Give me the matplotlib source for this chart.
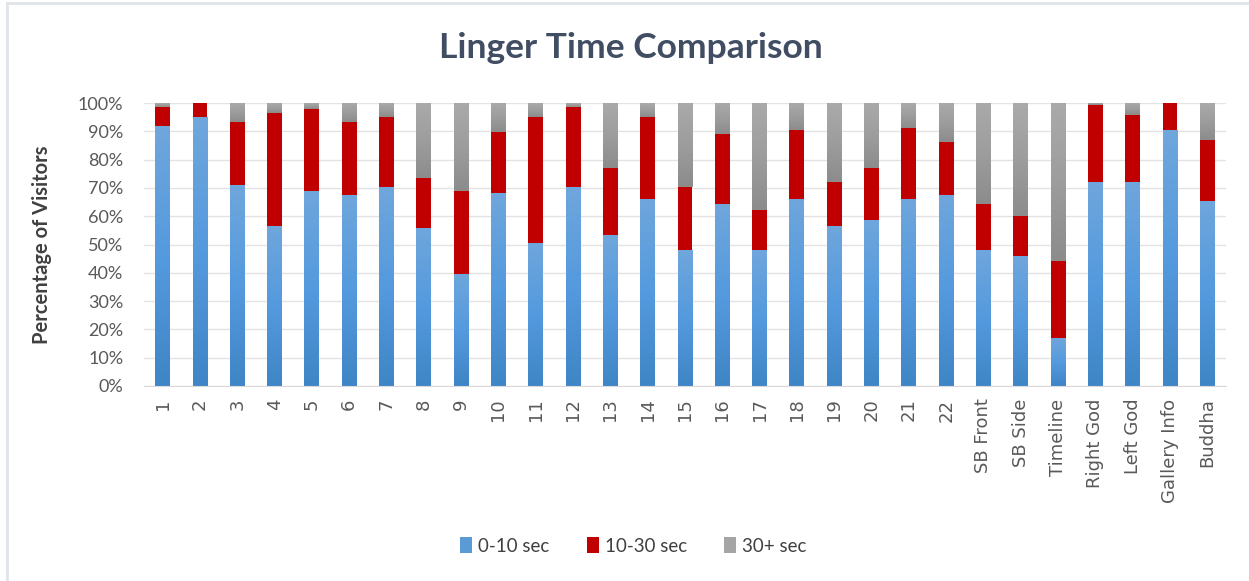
import numpy as np
import matplotlib
matplotlib.use("Agg")
import matplotlib.pyplot as plt
from matplotlib.colors import LinearSegmentedColormap
from matplotlib.lines import Line2D
from matplotlib.patches import Patch

# Exhibit stops and the share of visitors in each linger-time band (%)
stops = ["1", "2", "3", "4", "5", "6", "7", "8", "9", "10", "11", "12", "13",
         "14", "15", "16", "17", "18", "19", "20", "21", "22", "SB Front",
         "SB Side", "Timeline", "Right God", "Left God", "Gallery Info", "Buddha"]
short_0_10 = [91.7, 95.2, 70.9, 56.7, 68.8, 67.5, 70.2, 56.0, 39.7, 68.2,
              50.7, 70.2, 53.3, 66.2, 48.0, 64.2, 48.0, 66.2, 56.7, 58.7,
              66.2, 67.5, 48.0, 45.9, 16.9, 72.2, 72.2, 90.4, 65.4]
mid_10_30 = [6.9, 4.8, 22.3, 39.8, 29.1, 25.7, 25.0, 17.6, 29.2, 21.5,
             44.5, 28.4, 23.7, 29.0, 22.2, 24.8, 14.1, 24.2, 15.5, 18.3,
             25.0, 18.8, 16.2, 14.2, 27.1, 27.0, 23.7, 9.6, 21.5]
long_30 = [100 - a - b for a, b in zip(short_0_10, mid_10_30)]
series_names = ["0-10 sec", "10-30 sec", "30+ sec"]

W, H = 1249, 581
fig = plt.figure(figsize=(W / 100, H / 100), dpi=100)
fig.patch.set_facecolor("white")

ax = fig.add_axes([144 / W, (H - 386) / H, (1226 - 144) / W, (386 - 103) / H])
ax.set_facecolor("white")

x = np.arange(len(stops))
bw = 0.40

blue_cmap = LinearSegmentedColormap.from_list(
    "blue_grad", ["#3f86c6", "#549ade", "#6fa6dc"])
gray_cmap = LinearSegmentedColormap.from_list(
    "gray_grad", ["#8c8c8c", "#9d9d9d", "#aaaaaa"])

b1 = ax.bar(x, short_0_10, bw, color="#5b9bd5", zorder=2)
b2 = ax.bar(x, mid_10_30, bw, bottom=short_0_10, color="#c00000", zorder=2)
b3 = ax.bar(x, long_30, bw, bottom=np.add(short_0_10, mid_10_30),
            color="#a5a5a5", zorder=2)

# vertical gradient fill for the blue and gray segments
grad = np.linspace(0, 1, 64).reshape(-1, 1)
for bars, cmap in ((b1, blue_cmap), (b3, gray_cmap)):
    for p in bars:
        x0, y0 = p.get_x(), p.get_y()
        w, h = p.get_width(), p.get_height()
        if h <= 0:
            continue
        im = ax.imshow(grad, cmap=cmap, origin="lower", aspect="auto",
                       extent=(x0, x0 + w, y0, y0 + h), zorder=2.5,
                       interpolation="bilinear")
        im.set_clip_path(p)

ax.set_xlim(-0.5, len(stops) - 0.5)
ax.set_ylim(0, 100)
ax.set_yticks(np.arange(0, 101, 10))
ax.set_yticklabels([f"{v}%" for v in range(0, 101, 10)],
                   fontsize=13, color="#595959", family="Lato")
ax.set_xticks(x)
ax.set_xticklabels(stops, rotation=90, fontsize=13, color="#595959",
                   family="DejaVu Sans")
ax.tick_params(axis="x", length=0, pad=9)
ax.tick_params(axis="y", length=0, pad=15)
ax.grid(axis="y", color="#e3e3e3", linewidth=1.0, zorder=0)
ax.set_axisbelow(True)
for s in ("top", "right", "left"):
    ax.spines[s].set_visible(False)
ax.spines["bottom"].set_color("#d9d9d9")

ax.set_ylabel("Percentage of Visitors", fontsize=14.5, fontweight="bold",
              color="#404040", family="Lato")
ax.yaxis.set_label_coords((52 - 144) / (1226 - 144), 0.5)

fig.text(0.505, 1 - 48 / H, "Linger Time Comparison", ha="center",
         va="center", fontsize=25.5, fontweight="bold", color="#404d63",
         family="Lato")

handles = [Patch(facecolor="#5b9bd5"), Patch(facecolor="#c00000"),
           Patch(facecolor="#a5a5a5")]
fig.legend(handles, series_names, loc="center", ncol=3,
           bbox_to_anchor=(0.507, 1 - 546 / H), frameon=False,
           prop={"family": "Lato", "size": 13.5}, handlelength=0.65,
           handleheight=0.95, handletextpad=0.3, columnspacing=2.0,
           labelcolor="#404040")

# light frame on the top and left edges of the chart area
fig.add_artist(Line2D([7 / W, 1], [1 - 3 / H, 1 - 3 / H],
                      transform=fig.transFigure, color="#e0e3e8", lw=2))
fig.add_artist(Line2D([7 / W, 7 / W], [0, 1 - 3 / H],
                      transform=fig.transFigure, color="#e0e3e8", lw=2))

fig.savefig("out.png", dpi=100, facecolor="white")
